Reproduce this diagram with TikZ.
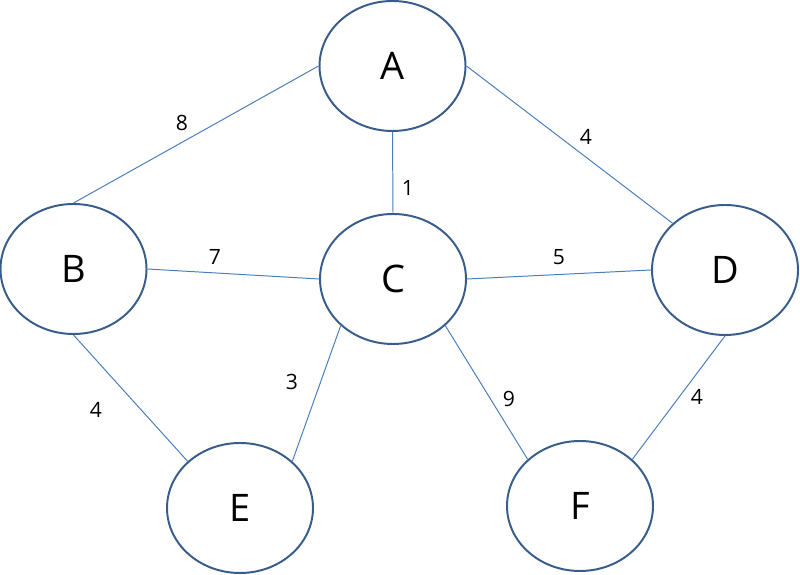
\documentclass[tikz,border=0pt]{standalone}
\usepackage{fontspec}
\setmainfont{Open Sans}
\usetikzlibrary{shapes.geometric}
\definecolor{vl}{RGB}{56,93,138}
\definecolor{el}{RGB}{74,126,187}

\begin{document}
\begin{tikzpicture} [
    v/.style={
        ellipse, draw=vl, line width=1.4pt, fill=white,
        minimum width=3.65cm, minimum height=3.25cm,
        inner sep=0pt,
        font=\fontsize{27}{30}\selectfont
    },
    e/.style={
        draw=el, line width=0.7pt
    },
    w/.style={
        font=\fontsize{15}{18}\selectfont
    }
]

\useasboundingbox (0,0) rectangle (20,14.375);

\node [v] (A) at (9.8125, 12.725) {A};
\node [v] (B) at (1.8375, 7.65)   {B};
\node [v] (C) at (9.825, 7.4)     {C};
\node [v] (D) at (18.125, 7.625)  {D};
\node [v] (E) at (6.0, 1.675)     {E};
\node [v] (F) at (14.5, 1.725)    {F};

\path [e] (A.west)       -- (B.north);
\path [e] (A.south)      -- (C.north);
\path [e] (A.east)       -- (D.north west);
\path [e] (B.east)       -- (C.west);
\path [e] (C.east)       -- (D.west);
\path [e] (B.south)      -- (E.north west);
\path [e] (C.south west) -- (E.north east);
\path [e] (C.south east) -- (F.north west);
\path [e] (D.south)      -- (F.north east);

\node [w] (wab) at (4.55, 11.3)    {8};
\node [w] (wac) at (10.2, 9.675)   {1};
\node [w] (wad) at (14.65, 10.95)  {4};
\node [w] (wbc) at (5.375, 7.95)   {7};
\node [w] (wcd) at (13.975, 7.95)  {5};
\node [w] (wce) at (7.3, 4.825)    {3};
\node [w] (wcf) at (12.725, 4.4)   {9};
\node [w] (wbe) at (2.4, 4.125)    {4};
\node [w] (wdf) at (17.425, 4.45)  {4};

\end{tikzpicture}
\end{document}
